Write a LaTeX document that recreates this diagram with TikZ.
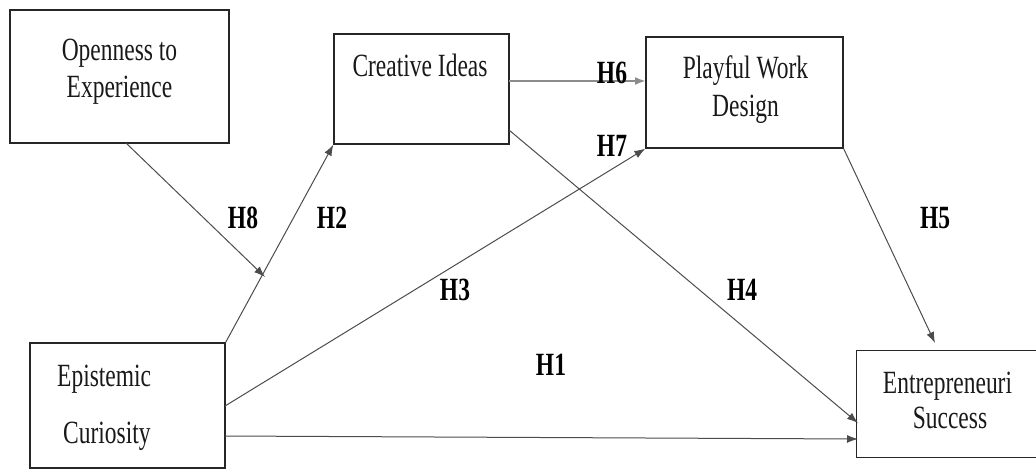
\documentclass[tikz,border=0pt]{standalone}
\usepackage{fontspec}
\setmainfont{Liberation Serif}[FakeStretch=0.725]
\usetikzlibrary{arrows.meta}
\begin{document}
\begin{tikzpicture}[x=1pt,y=-1pt,
  box/.style={draw=black!85,line width=1.3pt,inner sep=0pt,rectangle},
  txt/.style={anchor=base,inner sep=0pt,font=\fontsize{32.4}{37}\selectfont,text=black!90},
  hyp/.style={inner sep=0pt,font=\fontsize{32.4}{37}\selectfont\bfseries},
  conn/.style={draw=black!70,line width=1pt,-{Latex[length=11pt,width=8pt]}}]
\useasboundingbox (0,0) rectangle (1036,469);
\clip (0,0) rectangle (1036,469);
% boxes
\node[box,minimum width=219pt,minimum height=133pt] (op) at (119.5,76.5) {};
\node[box,minimum width=175pt,minimum height=110pt] (ci) at (421.5,89) {};
\node[box,minimum width=197pt,minimum height=111pt] (pw) at (744.5,92.5) {};
\node[box,minimum width=195pt,minimum height=125pt] (ep) at (127.5,405.5) {};
\node[box,draw=none,minimum width=220pt,minimum height=106pt] (es) at (967,404) {};
\draw[draw=black!85,line width=1.3pt] (es.north east) -- (es.north west) -- (es.south west) -- (es.south east);
% texts
\node[txt] (opa) at (119.5,60) {Openness to};
\node[txt] (opb) at (119.5,97) {Experience};
\node[txt] (cia) at (420,76) {Creative Ideas};
\node[txt] (pwa) at (745.5,78) {Playful Work};
\node[txt] (pwb) at (745.5,116) {Design};
\node[txt,anchor=base west] (epa) at (57,386) {Epistemic};
\node[txt,anchor=base west] (epb) at (63,443) {Curiosity};
\node[txt] (esa) at (947.5,393) {Entrepreneuri};
\node[txt] (esb) at (950,428) {Success};
% connector points
\coordinate (h8s) at (126,143);
\coordinate (h8e) at (265,277);
\coordinate (ci6) at (509,81);
\coordinate (pw6) at (646,81);
\coordinate (ep7) at (225,406);
\coordinate (ci4) at (509,130);
\coordinate (es4) at (858,423);
\coordinate (ep1) at (225,436);
\coordinate (es1) at (858,439);
\coordinate (es5) at (935,343);
% connectors
\draw[conn] (ep.north east) -- (ci.south west);
\draw[conn] (h8s) -- (h8e);
\draw[conn,draw=black!45,line width=2pt] (ci6) -- (pw6);
\draw[conn] (ep7) -- (pw.south west);
\draw[conn] (ci4) -- (es4);
\draw[conn] (ep1) -- (es1);
\draw[conn] (pw.south east) -- (es5);
% labels
\node[hyp] (l8) at (243,218) {H8};
\node[hyp] (l2) at (332,218) {H2};
\node[hyp] (l6) at (612,73) {H6};
\node[hyp] (l7) at (612,146) {H7};
\node[hyp] (l5) at (935,218) {H5};
\node[hyp] (l3) at (455,290) {H3};
\node[hyp] (l4) at (742,290) {H4};
\node[hyp] (l1) at (551,365) {H1};
\end{tikzpicture}
\end{document}
